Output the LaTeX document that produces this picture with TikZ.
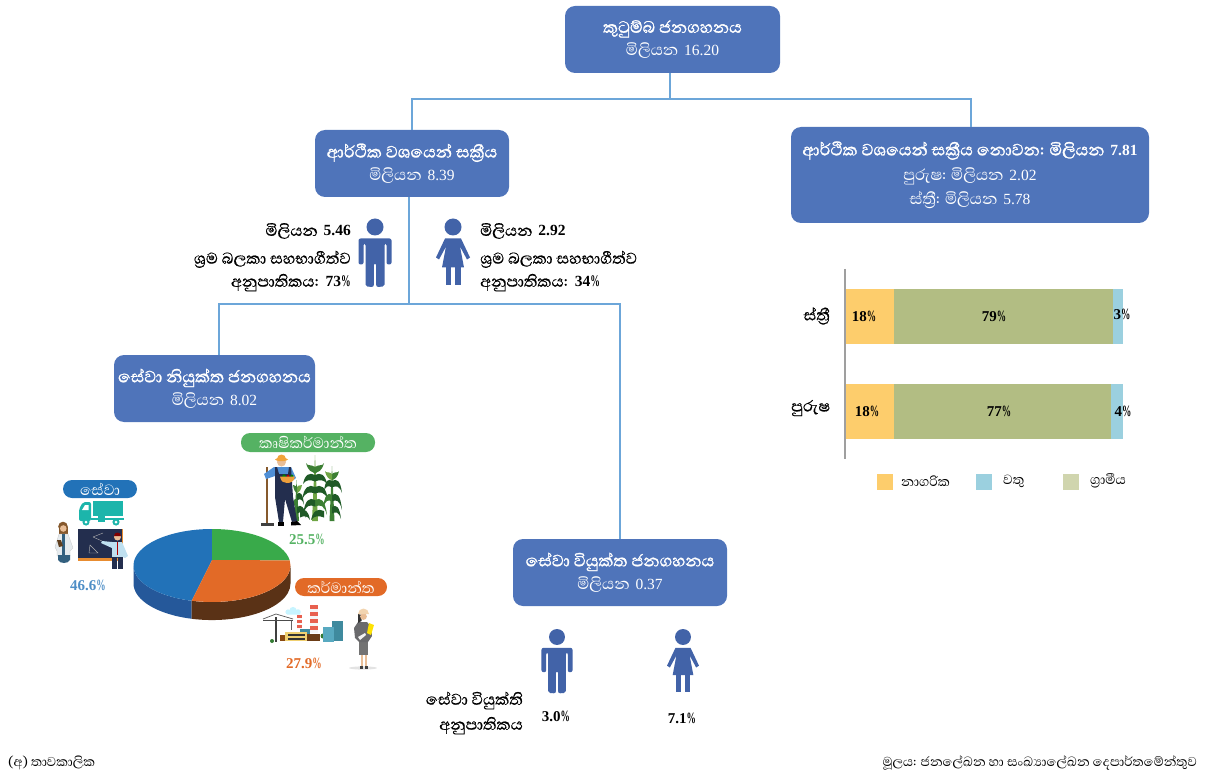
\documentclass[tikz,border=0pt]{standalone}
\usepackage{fontspec}
\usepackage{graphicx}
\setmainfont{Liberation Serif}
\newfontfamily\si[Script=Sinhala]{Abhaya Libre}
\newfontfamily\sib[Script=Sinhala,FakeBold=1.2]{Abhaya Libre}
\newfontfamily\sinm[Script=Sinhala,FakeBold=0.5]{Abhaya Libre}
\newfontfamily\latf{Liberation Serif}
\newcommand{\pc}{\scalebox{0.62}[1.05]{\%}}
\newcommand{\nn}[1]{\hspace{2pt}{\latf\fontsize{15.5}{20}\selectfont #1}}
\newcommand{\nb}[1]{\hspace{2pt}{\latf\bfseries\fontsize{15.5}{20}\selectfont #1}}
\newcommand{\sz}[1]{\fontsize{#1}{23}\selectfont}
\newcommand{\ttl}[1]{{\sib\sz{21}#1}}
\definecolor{boxblue}{HTML}{4F74BA}
\definecolor{linkblue}{HTML}{6CA6D9}
\definecolor{icon}{HTML}{4263A8}
\definecolor{uy}{HTML}{FDCD6C}
\definecolor{rg}{HTML}{B2BD83}
\definecolor{eb}{HTML}{9BD0DF}
\definecolor{pg}{HTML}{D0D5AE}
\definecolor{pgreen}{HTML}{55B263}
\definecolor{pblue}{HTML}{2272B8}
\definecolor{porange}{HTML}{E26A27}
\definecolor{piegreen}{HTML}{39AA4A}
\definecolor{piedblue}{HTML}{25589A}
\definecolor{piebrown}{HTML}{5A3216}
\definecolor{navy}{HTML}{232E4E}
\definecolor{teal}{HTML}{1CB5AB}
\definecolor{cornd}{HTML}{1F5A26}
\definecolor{cornm}{HTML}{3C7F33}
\definecolor{cornl}{HTML}{6FA544}
\definecolor{skin}{HTML}{E9BE97}
\definecolor{shirt}{HTML}{4F8FD6}
\definecolor{hatc}{HTML}{F2A33A}
\definecolor{slate}{HTML}{33607F}
\definecolor{coat}{HTML}{E6EBEE}
\definecolor{tshirt}{HTML}{BFE0F0}
\definecolor{stripe}{HTML}{E8604F}
\definecolor{bldl}{HTML}{58A9C0}
\definecolor{bldd}{HTML}{3F8A9E}
\definecolor{brickb}{HTML}{6B3C16}
\definecolor{creamy}{HTML}{F0D070}
\definecolor{suit}{HTML}{6A6A6C}
\tikzset{
 x=1pt,y=1pt,
 box/.style={fill=boxblue,rounded corners=10pt,text=white,align=center,inner sep=0pt,font=\si\sz{20}},
 link/.style={draw=linkblue,line width=1.6pt},
 lab/.style={inner sep=0pt,font=\sinm\sz{20}},
 pill/.style={rounded corners=9pt,text=white,inner sep=0pt,font=\si\sz{19}},
 bartxt/.style={inner sep=0pt,font=\fontsize{15}{18}\selectfont\bfseries},
 pct/.style={inner sep=0pt,font=\fontsize{15}{18}\selectfont\bfseries},
 cat/.style={inner sep=0pt,font=\sinm\sz{20}},
 leg/.style={inner sep=0pt,anchor=west,font=\si\sz{17}},
 foot/.style={inner sep=0pt,font=\si\sz{16.5}},
}
\newcommand{\manicon}[3]{% x, top y, scale
 \begin{scope}[shift={(#1,#2)},scale=#3]
 \fill[icon] (0,-8.5) circle (8.5);
 \fill[icon,rounded corners=2pt] (-16.5,-46) -- (-16.5,-20) -- (16.5,-20) -- (16.5,-46) -- (11.5,-46) -- (11.5,-25) -- (9.5,-25) -- (9.5,-68) -- (1.2,-68.5) -- (1.2,-45) -- (-1.2,-45) -- (-1.2,-68.5) -- (-9.5,-68) -- (-9.5,-25) -- (-11.5,-25) -- (-11.5,-46) -- cycle;
 \end{scope}}
\newcommand{\womanicon}[3]{%
 \begin{scope}[shift={(#1,#2)},scale=#3]
 \fill[icon] (0,-8.5) circle (8.5);
 \fill[icon] (-8,-20) -- (8,-20) -- (17,-39) -- (14,-41) -- (7,-28) -- (11,-49) -- (-11,-49) -- (-7,-28) -- (-14,-41) -- (-17,-39) -- cycle;
 \fill[icon] (-7.5,-49) rectangle (-2,-67);
 \fill[icon] (2,-49) rectangle (7.5,-67);
 \end{scope}}
% corn leaf: x, y, side, length, drop, colour
\newcommand{\cleaf}[6]{%
 \fill[#6] ({#1},{#2+3}) .. controls ({#1+#3*0.45*#4},{#2+6}) and ({#1+#3*0.85*#4},{#2+3.5}) .. ({#1+#3*#4},{#2-#5}) .. controls ({#1+#3*0.75*#4},{#2-1.5}) and ({#1+#3*0.4*#4},{#2-1.5}) .. ({#1},{#2-3.5}) -- cycle;}
\begin{document}
\begin{tikzpicture}
\useasboundingbox (0,0) rectangle (1217,-775);
% boxes
\node[box,minimum width=215pt,minimum height=67pt] (top) at (672.5,-39.5) {\ttl{කුටුම්බ ජනගහනය}\\මිලියන \nn{16.20}};
\node[box,minimum width=194pt,minimum height=67pt] (act) at (412,-163.5) {\ttl{ආර්ථික වශයෙන් සක්‍රීය}\\මිලියන \nn{8.39}};
\node[box,minimum width=358pt,minimum height=96pt] (inact) at (970,-175) {\ttl{ආර්ථික වශයෙන් සක්‍රීය නොවන: මිලියන \nb{7.81}}\\[2pt]පුරුෂ: මිලියන \nn{2.02}\\[1pt]ස්ත්‍රී: මිලියන \nn{5.78}};
\node[box,minimum width=201pt,minimum height=67pt] (emp) at (214.5,-388.5) {\ttl{සේවා නියුක්ත ජනගහනය}\\මිලියන \nn{8.02}};
\node[box,minimum width=214pt,minimum height=67pt] (unemp) at (620,-572.5) {\ttl{සේවා වියුක්ත ජනගහනය}\\මිලියන \nn{0.37}};
% connectors
\coordinate (b0) at (670,-99);
\coordinate (bl) at (412,-99);
\coordinate (br) at (971,-99);
\coordinate (c0) at (409,-304);
\coordinate (cl) at (219,-304);
\coordinate (cr) at (620,-304);
\draw[link] (top.south -| b0) -- (b0);
\draw[link] (act.north) -- (bl) -- (br) -- (inact.north -| br);
\draw[link] (act.south -| c0) -- (c0);
\draw[link] (emp.north -| cl) -- (cl) -- (cr) -- (unemp.north);
% gender stats
\manicon{375}{-218.5}{1}
\womanicon{453}{-218.5}{1}
\node[lab,anchor=east] (m1) at (351,-231) {මිලියන \nb{5.46}};
\node[lab,anchor=east,align=right] (m2) at (351,-271) {ශ්‍රම බලකා සහභාගීත්ව\\අනුපාතිකය: \nb{73\pc}};
\node[lab,anchor=west] (f1) at (480,-231) {මිලියන \nb{2.92}};
\node[lab,anchor=west,align=left] (f2) at (480,-271) {ශ්‍රම බලකා සහභාගීත්ව\\අනුපාතිකය: \nb{34\pc}};
% stacked bars
\draw[gray!75,line width=1.8pt] (845,-269) -- (845,-459);
\fill[uy] (846,-289) rectangle (894,-344);
\fill[rg] (894,-289) rectangle (1113,-344);
\fill[eb] (1113,-289) rectangle (1123,-344);
\fill[uy] (846,-384) rectangle (894,-439);
\fill[rg] (894,-384) rectangle (1111,-439);
\fill[eb] (1111,-384) rectangle (1123,-439);
\node[bartxt] (a1) at (864,-316) {18\pc};
\node[bartxt] (a2) at (994,-316) {79\pc};
\node[bartxt] (a3) at (1122,-314) {3\pc};
\node[bartxt] (b1) at (867,-411) {18\pc};
\node[bartxt] (b2) at (999,-411) {77\pc};
\node[bartxt] (b3) at (1123,-411) {4\pc};
\node[cat,anchor=east] (fem) at (830,-316) {ස්ත්‍රී};
\node[cat,anchor=east] (mal) at (830,-408) {පුරුෂ};
\fill[uy] (877,-474) rectangle (893,-490);
\fill[eb] (976,-474) rectangle (992,-490);
\fill[pg] (1063,-474) rectangle (1079,-490);
\node[leg] (l1) at (901,-481) {නාගරික};
\node[leg] (l2) at (1003,-481) {වතු};
\node[leg] (l3) at (1090,-481) {ග්‍රාමීය};
% pie
\fill[piedblue] (133.5,-565.5) arc[start angle=180,end angle=255,x radius=78.5,y radius=36.5] -- ++(0,-18) arc[start angle=255,end angle=180,x radius=78.5,y radius=36.5] -- cycle;
\fill[piebrown] (191.7,-600.8) arc[start angle=255,end angle=360,x radius=78.5,y radius=36.5] -- ++(0,-18) arc[start angle=360,end angle=255,x radius=78.5,y radius=36.5] -- cycle;
\fill[pblue] (212,-560) -- (212,-529) arc[start angle=90,end angle=255,x radius=78.5,y radius=36.5] -- cycle;
\fill[piegreen] (212,-560) -- (212,-529) arc[start angle=90,end angle=8,x radius=78.5,y radius=36.5] -- cycle;
\fill[porange] (212,-560) -- (289.7,-560.4) arc[start angle=8,end angle=-105,x radius=78.5,y radius=36.5] -- cycle;
% pills and percentages
\node[pill,fill=pgreen,minimum width=134pt,minimum height=19pt] (p1) at (308,-442.5) {කෘෂිකර්මාන්ත};
\node[pill,fill=pblue,minimum width=74pt,minimum height=18pt] (p2) at (100,-489) {සේවා};
\node[pill,fill=porange,minimum width=92pt,minimum height=18pt] (p3) at (341,-587) {කර්මාන්ත};
\node[pct,text=pgreen] (v1) at (307,-539) {25.5\pc};
\node[pct,text=pblue!80!white] (v2) at (88,-585) {46.6\pc};
\node[pct,text=porange] (v3) at (304,-663) {27.9\pc};
% corn
\fill[cornm] (294.5,-521) -- (296.5,-480) -- (299,-521) -- cycle;
\fill[cornl] (312,-521) -- (315,-455) -- (318,-521) -- cycle;
\fill[cornm] (329.5,-521) -- (332,-466) -- (334.5,-521) -- cycle;
\foreach \xx/\yy/\ss/\ll/\dd/\cc in {
 315/-470/1/9/-7/cornm,315/-470/-1/9/-7/cornm,
 315/-478/1/12/6/cornd,315/-478/-1/12/6/cornd,
 315/-490/1/13/10/cornd,315/-490/-1/13/10/cornd,
 315/-503/1/12/12/cornm,315/-503/-1/12/12/cornd,
 332/-477/1/7/-6/cornm,332/-477/-1/7/-6/cornl,
 332/-484/1/10/9/cornd,332/-484/-1/8/7/cornd,
 332/-498/1/10/12/cornd,332/-498/-1/9/11/cornm,
 332/-510/1/9/9/cornd,
 297/-490/1/5/-5/cornl,297/-490/-1/4/-5/cornm,
 297/-497/1/7/8/cornd,297/-503/-1/5/9/cornm,
 297/-510/1/9/8/cornd,300/-514/1/10/6/cornd,324/-514/-1/13/6/cornd}{
 \cleaf{\xx}{\yy}{\ss}{\ll}{\dd}{\cc}}
% farmer
\draw[draw=brown!70!black,line width=1.3pt] (267,-467) -- (267,-523);
\fill[black!75] (261,-523) rectangle (274,-525.5);
\fill[shirt] (264,-474) -- (274,-467) -- (291,-467) -- (296,-478) -- (291,-482) -- (275,-476) -- (266,-479) -- cycle;
\fill[navy] (275,-467) -- (277,-467) -- (279,-474) -- (288,-474) -- (289,-467) -- (291,-467) -- (293,-497) -- (297,-521) -- (292,-522) -- (285,-499) -- (283,-522) -- (279,-522) -- (275,-497) -- cycle;
\fill[black] (277.5,-522) rectangle (283.5,-525.5);
\fill[black] (291,-522) -- (297,-521) -- (301,-525) -- (291,-525.5) -- cycle;
\fill[skin] (281.5,-462) circle (4.5);
\fill[hatc] (281.5,-459.5) ellipse (6.5 and 1.6);
\fill[hatc] (277,-459) arc[start angle=180,end angle=0,x radius=4.5,y radius=4.5] -- cycle;
\fill[green!50!black] (284,-476) circle (1.8);
\fill[red!70!black] (288,-476) circle (1.5);
\fill[green!50!black] (292,-476) circle (1.6);
\fill[hatc!90!brown] (280,-476.5) -- (295,-476.5) .. controls (294,-482) and (290,-483) .. (287,-483) .. controls (284,-483) and (281,-482) .. (280,-476.5) -- cycle;
% truck
\fill[teal] (93,-501) rectangle (123,-516);
\fill[teal,rounded corners=2pt] (79,-521) -- (79,-509) -- (83,-502) -- (91,-502) -- (91,-521) -- cycle;
\fill[white] (82,-510) -- (85,-505) -- (88.5,-505) -- (88.5,-510) -- cycle;
\fill[teal] (91,-518) rectangle (124,-520);
\fill[teal] (98,-516) rectangle (105,-522);
\fill[teal] (86,-522) circle (3.6);
\fill[teal] (116,-522) circle (3.6);
\fill[white] (86,-522) circle (1.5);
\fill[white] (116,-522) circle (1.5);
% blackboard and teacher
\fill[orange!60!brown!90!white] (78,-557) rectangle (123,-560.5);
\fill[orange!60!brown!90!white] (121,-529) rectangle (123,-560);
\fill[navy] (78,-529) rectangle (121.5,-558);
\draw[gray!60,line width=.4pt] (93,-537) -- (103,-533) (93,-537) -- (102,-541) (90,-545) -- (98,-553) -- (89,-553) -- cycle;
\fill[tshirt] (112,-542) -- (122,-542) -- (128,-556) -- (125,-558) -- (123,-557) -- (112,-557) -- (112,-548) -- (101,-543) -- (102,-541) -- cycle;
\fill[navy] (112,-557) rectangle (117,-568.5);
\fill[navy] (118,-557) rectangle (123,-568.5);
\fill[skin] (117.5,-537) circle (3.5);
\fill[red!50!black] (114,-536) arc[start angle=180,end angle=0,radius=3.5] -- cycle;
\fill[red!70!black] (116.8,-542) rectangle (118.2,-555);
% doctor
\fill[brown!70!black] (63,-526.5) circle (4.8);
\fill[brown!70!black] (58.5,-527) rectangle (67.5,-535);
\fill[skin] (63.3,-528.5) circle (3.3);
\fill[coat,draw=gray!45,line width=.3pt] (59,-534) -- (68,-534) -- (73,-548) -- (70,-551) -- (70,-556) -- (57,-556) -- (57,-551) -- (55,-547) -- cycle;
\fill[slate] (61.5,-534) rectangle (65,-555);
\fill[slate] (58,-555) -- (70,-555) -- (70,-560) .. controls (68,-564) and (60,-564) .. (58,-560) -- cycle;
\fill[brown!50!black] (57,-540) -- (61,-540) -- (63,-546) -- (59,-547) -- cycle;
% factory
\fill[blue!20!cyan!22!white] (288,-612) circle (2.6) (293,-610.5) circle (3.6) (298,-612) circle (2.8) (287,-612) rectangle (300,-614.5);
\draw[gray!50!black,line width=1.6pt] (276,-617) -- (276,-642);
\draw[black!65,line width=.7pt] (263,-619) -- (276,-614) -- (293,-619);
\draw[black!70,line width=1.5pt] (263,-620.5) -- (293,-620.5);
\draw[black!60,line width=.4pt] (291,-621) -- (291,-630);
\fill[green!35!black!80] (272,-641) circle (2);
\foreach \yy in {615,620,625}{\fill[stripe] (297,-\yy) rectangle (302,-\yy-2.5); \fill[gray!5] (297,-\yy-2.5) rectangle (302,-\yy-5);}
\foreach \yy in {605,612,619,626}{\fill[stripe] (310,-\yy) rectangle (318,-\yy-3.5); \fill[gray!8] (310,-\yy-3.5) rectangle (318,-\yy-7);}
\fill[brickb] (303,-633.5) rectangle (320,-641);
\fill[bldd] (300,-629) rectangle (310,-633.5);
\fill[brickb!80!orange] (280,-635) rectangle (287,-641);
\fill[creamy] (285,-632) rectangle (307,-641);
\fill[black!80] (288,-633.5) rectangle (305,-636);
\fill[black!80] (288,-637.5) rectangle (305,-640);
\fill[green!35!black!80] (323,-636) circle (2.5);
\fill[bldd] (332,-621) rectangle (343,-641);
\fill[bldl] (323,-627) rectangle (334,-642);
% engineer
\fill[gray!22] (363,-668) ellipse (14 and 1.6);
\fill[skin] (360.5,-654) rectangle (362.7,-667);
\fill[skin] (364.5,-654) rectangle (366.7,-667);
\fill[black!75] (360,-666) rectangle (363,-669);
\fill[black!75] (364.5,-666) rectangle (367.5,-669);
\fill[black!55] (359,-640) rectangle (368,-655);
\fill[suit] (358,-622) -- (367,-622) -- (371,-627) -- (372,-636) -- (368,-642) -- (359,-642) -- (355,-638) -- (354,-628) -- cycle;
\fill[gray!10] (358,-637) -- (365,-633) -- (366,-635) -- (360,-640) -- cycle;
\fill[yellow!85!orange] (369,-623) -- (374,-625) -- (371,-635) -- (367,-633) -- cycle;
\fill[black!80] (358,-614) -- (358,-623) -- (361.5,-621) -- (362,-615) -- cycle;
\fill[skin] (363.5,-616.5) circle (3.4);
\fill[hatc!30!white!85!brown] (358,-614) arc[start angle=180,end angle=0,x radius=5.5,y radius=5.5] -- cycle;
% unemployment stats
\manicon{557}{-629}{.94}
\womanicon{683}{-629}{.94}
\node[lab,anchor=east,align=right] (u1) at (523,-713) {සේවා වියුක්ති\\[2pt]අනුපාතිකය};
\node[pct] (u2) at (556,-716) {3.0\pc};
\node[pct] (u3) at (682,-718) {7.1\pc};
% footers
\node[foot,anchor=west] (f3) at (8,-763) {(අ) තාවකාලික};
\node[foot,anchor=east] (f4) at (1197,-763) {මූලය: ජනලේඛන හා සංඛ්‍යාලේඛන දෙපාර්තමේන්තුව};
\end{tikzpicture}
\end{document}
